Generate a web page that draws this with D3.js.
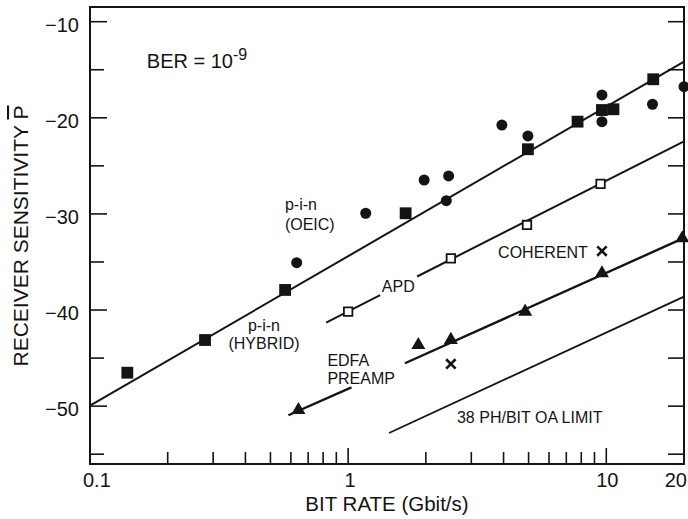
<!DOCTYPE html>
<html>
<head>
<meta charset="utf-8">
<script src="https://cdn.jsdelivr.net/npm/d3@7"></script>
<style>
body { margin: 0; background: #fff; }
svg { display: block; font-family: "Liberation Sans", Arial, Helvetica, sans-serif; }
</style>
</head>
<body>
<svg width="688" height="519"></svg>
<script>
// Data: [bit rate (Gbit/s), receiver sensitivity (dBm)]
const pinOeic = [
    [0.632, -35.07], [1.17, -29.93], [1.97, -26.47], [2.45, -26.05], [2.40, -28.62],
    [3.94, -20.75], [4.97, -21.89], [9.62, -17.62], [9.62, -20.40], [15.1, -18.59], [20, -16.76]
];
const pinHybrid = [
    [0.1395, -46.52], [0.279, -43.12], [0.570, -37.91], [1.67, -29.93], [4.97, -23.27],
    [7.74, -20.40], [9.62, -19.19], [10.66, -19.11], [15.2, -15.99]
];
const apd = [[1.0, -40.17], [2.5, -34.62], [4.93, -31.15], [9.5, -26.88]];
const edfa = [[0.642, -50.40], [1.87, -43.64], [2.5, -43.11], [4.85, -40.17], [9.62, -36.18], [19.7, -32.53]];
const coherent = [[2.5, -45.61], [9.62, -33.86]];

// Fitted lines (segments, gaps left for the labels)
const pinLine = [[[0.1, -49.95], [20, -14.16]]];
const apdLine = [[[0.822, -41.3], [1.33, -38.46]], [[1.85, -36.51], [20, -22.45]]];
const edfaLine = [[[0.587, -50.95], [1.03, -48.05]], [[1.66, -45.54], [20, -32.5]]];
const oaLine = [[[1.44, -52.8], [20, -38.6]]];

// Ticks
const xTickValues = [0.1, 1, 10, 20];
const xTickLabels = ["0.1", "1", "10", "20"];
const xMinorTicks = [0.2, 0.3, 0.4, 0.5, 0.6, 0.7, 0.8, 0.9, 1, 2, 3, 4, 5, 6, 7, 8, 9, 10];
const yTickValues = [-10, -20, -30, -40, -50];
const yMinorTicks = [-10, -15, -20, -25, -30, -35, -40, -45, -50, -55];

// Text annotations, anchored in data units
const annotations = [
    { text: "p-i-n", at: [0.569, -29.54], anchor: "start" },
    { text: "(OEIC)", at: [0.569, -31.67], anchor: "start" },
    { text: "p-i-n", at: [0.472, -42.15], anchor: "middle" },
    { text: "(HYBRID)", at: [0.472, -44.05], anchor: "middle" },
    { text: "APD", at: [1.35, -38.09], anchor: "start" },
    { text: "EDFA", at: [0.831, -45.82], anchor: "start" },
    { text: "PREAMP", at: [0.831, -47.69], anchor: "start" },
    { text: "COHERENT", at: [3.81, -34.62], anchor: "start" },
    { text: "38 PH/BIT OA LIMIT", at: [2.64, -51.78], anchor: "start" }
];

const ink = "#141414";
const svg = d3.select("svg");

const x = d3.scaleLog().domain([0.1, 20]).range([90, 684]);
const y = d3.scaleLinear().domain([-56.02, -8.47]).range([464, 7]);

// Frame
svg.append("rect")
    .attr("x", x(0.1)).attr("y", y(-8.47))
    .attr("width", x(20) - x(0.1)).attr("height", y(-56.02) - y(-8.47))
    .attr("fill", "none").attr("stroke", ink).attr("stroke-width", 2);

// Left ticks (inward)
svg.append("g").selectAll("line")
    .data(yMinorTicks)
    .enter().append("line")
    .attr("x1", x(0.1)).attr("x2", d => x(0.1) + (d % 10 === 0 ? 17 : 14))
    .attr("y1", d => y(d)).attr("y2", d => y(d))
    .attr("stroke", ink).attr("stroke-width", 1.6);

// Right ticks (inward)
svg.append("g").selectAll("line")
    .data(yMinorTicks)
    .enter().append("line")
    .attr("x1", x(20)).attr("x2", x(20) - 16)
    .attr("y1", d => y(d)).attr("y2", d => y(d))
    .attr("stroke", ink).attr("stroke-width", 1.6);

// Bottom ticks (inward)
svg.append("g").selectAll("line")
    .data(xMinorTicks)
    .enter().append("line")
    .attr("x1", d => x(d)).attr("x2", d => x(d))
    .attr("y1", y(-56.02)).attr("y2", d => y(-56.02) - (d === 1 || d === 10 ? 16 : 12))
    .attr("stroke", ink).attr("stroke-width", 1.6);

// Tick labels
svg.append("g").selectAll("text")
    .data(yTickValues)
    .enter().append("text")
    .attr("x", 79).attr("y", d => y(d) + 10)
    .attr("text-anchor", "end")
    .attr("font-size", 20).attr("fill", ink)
    .text(d => "\u2212" + Math.abs(d));

const xLabelShift = [[-7, "start"], [2, "middle"], [1, "middle"], [3, "end"]];
svg.append("g").selectAll("text")
    .data(xTickValues)
    .enter().append("text")
    .attr("x", (d, i) => x(d) + xLabelShift[i][0])
    .attr("y", 487)
    .attr("text-anchor", (d, i) => xLabelShift[i][1])
    .attr("font-size", 20).attr("fill", ink)
    .text((d, i) => xTickLabels[i]);

// Axis titles
svg.append("text")
    .attr("x", 387).attr("y", 511)
    .attr("text-anchor", "middle")
    .attr("font-size", 20.5).attr("fill", ink)
    .text("BIT RATE (Gbit/s)");

const yTitle = svg.append("text")
    .attr("transform", "translate(28,236) rotate(-90)")
    .attr("text-anchor", "middle")
    .attr("font-size", 21).attr("fill", ink);
yTitle.append("tspan").text("RECEIVER SENSITIVITY  ");
yTitle.append("tspan").style("text-decoration", "overline").text("P");

// BER note
const ber = svg.append("text")
    .attr("x", x(0.166)).attr("y", y(-14.83))
    .attr("font-size", 20).attr("fill", ink);
ber.append("tspan").text("BER = 10");
ber.append("tspan").attr("dy", -8).attr("font-size", 16).text("-9");

// Lines
const line = d3.line().x(d => x(d[0])).y(d => y(d[1]));
const lineGroups = [
    { segs: pinLine, w: 2 },
    { segs: apdLine, w: 2 },
    { segs: edfaLine, w: 2.4 },
    { segs: oaLine, w: 1.8 }
];
lineGroups.forEach(g => {
    svg.append("g").selectAll("path")
        .data(g.segs)
        .enter().append("path")
        .attr("d", line)
        .attr("fill", "none").attr("stroke", ink).attr("stroke-width", g.w);
});

// Markers
function markers(data, type, size, fill, stroke, sw) {
    svg.append("g").selectAll("path")
        .data(data)
        .enter().append("path")
        .attr("transform", d => `translate(${x(d[0])},${y(d[1])})`)
        .attr("d", d3.symbol().type(type).size(size))
        .attr("fill", fill)
        .attr("stroke", stroke)
        .attr("stroke-width", sw);
}
markers(pinOeic, d3.symbolCircle, 95, ink, "none", 0);
markers(pinHybrid, d3.symbolSquare, 140, ink, "none", 0);
markers(apd, d3.symbolSquare, 72, "#fff", ink, 1.8);
markers(edfa, d3.symbolTriangle, 85, ink, "none", 0);
markers(coherent, d3.symbolX, 60, "none", ink, 2.6);

// Annotations
svg.append("g").selectAll("text")
    .data(annotations)
    .enter().append("text")
    .attr("x", d => x(d.at[0])).attr("y", d => y(d.at[1]))
    .attr("text-anchor", d => d.anchor)
    .attr("font-size", 16).attr("fill", ink)
    .text(d => d.text);
</script>
</body>
</html>
